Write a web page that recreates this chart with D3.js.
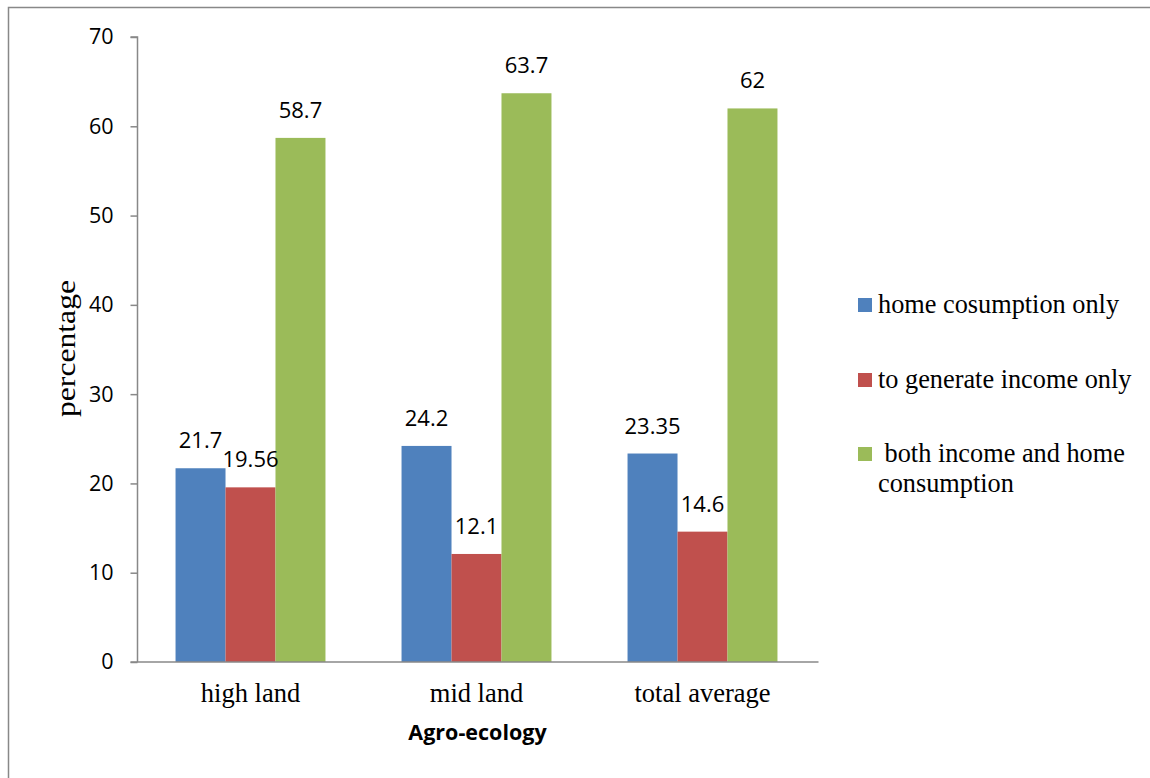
<!DOCTYPE html>
<html>
<head>
<meta charset="utf-8">
<script src="https://cdn.jsdelivr.net/npm/d3@7"></script>
<style>
  html, body { margin: 0; padding: 0; background: #fff; }
  svg { display: block; }
</style>
</head>
<body>
<svg id="chart" width="1150" height="778"></svg>
<script>
// Purpose of production by agro-ecology zone (percent of households)
const categories = ["high land", "mid land", "total average"];
const seriesNames = ["home cosumption only", "to generate income only", " both income and home consumption"];
const legendLines = [["home cosumption only"], ["to generate income only"], [" both income and home", "consumption"]];
const homeOnly = [21.7, 24.2, 23.35];
const incomeOnly = [19.56, 12.1, 14.6];
const bothUses = [58.7, 63.7, 62];
const valueLabels = [["21.7", "24.2", "23.35"], ["19.56", "12.1", "14.6"], ["58.7", "63.7", "62"]];
const yTicks = [0, 10, 20, 30, 40, 50, 60, 70];
const colors = ["#4f81bd", "#c0504d", "#9bbb59"];

const series = [homeOnly, incomeOnly, bothUses];

const sansFont = "'Open Sans', Lato, sans-serif";
const serifFont = "'Liberation Serif', 'Times New Roman', serif";

const svg = d3.select("#chart");

// outer frame
svg.append("path")
  .attr("d", "M8.5,778 V7.5 H1150")
  .attr("fill", "none")
  .attr("stroke", "#888")
  .attr("stroke-width", 1.5);

const plot = { left: 137.5, right: 815.5, top: 37, bottom: 662 };

const x0 = d3.scaleBand()
  .domain(categories)
  .range([plot.left, plot.right])
  .paddingInner(0.3366)
  .paddingOuter(0.1683);

const x1 = d3.scaleBand()
  .domain(d3.range(series.length))
  .range([0, x0.bandwidth()]);

const y = d3.scaleLinear().domain([0, 70]).range([plot.bottom, plot.top]);

// bars
series.forEach((vals, si) => {
  svg.append("g")
    .selectAll("rect")
    .data(vals)
    .join("rect")
    .attr("x", (d, i) => x0(categories[i]) + x1(si))
    .attr("y", d => y(d))
    .attr("width", x1.bandwidth())
    .attr("height", d => y(0) - y(d))
    .attr("fill", colors[si]);
});

// value labels above each bar
series.forEach((vals, si) => {
  svg.append("g")
    .selectAll("text")
    .data(vals)
    .join("text")
    .attr("x", (d, i) => x0(categories[i]) + x1(si) + x1.bandwidth() / 2)
    .attr("y", d => y(d) - 20)
    .attr("text-anchor", "middle")
    .attr("font-family", sansFont)
    .attr("font-size", 22)
    .attr("fill", "#000")
    .text((d, i) => valueLabels[si][i]);
});

// y axis
const yAxis = svg.append("g")
  .attr("transform", `translate(${plot.left},0)`)
  .call(d3.axisLeft(y).tickValues(yTicks).tickSize(7).tickPadding(17).tickFormat(d3.format("d")));
yAxis.select(".domain").attr("stroke", "#888").attr("stroke-width", 1.5).attr("d", `M-7,${plot.top}H0V${plot.bottom}`);
yAxis.selectAll(".tick line").attr("stroke", "#888").attr("stroke-width", 1.5);
yAxis.selectAll(".tick text")
  .attr("font-family", sansFont)
  .attr("font-size", 21.5)
  .attr("fill", "#000");

// x axis
const xAxis = svg.append("g")
  .attr("transform", `translate(0,${plot.bottom})`)
  .call(d3.axisBottom(x0).tickSize(0).tickPadding(0));
xAxis.select(".domain").attr("stroke", "#888").attr("stroke-width", 1.5).attr("d", `M${plot.left - 7},0H${plot.right + 3}`);
xAxis.selectAll(".tick text")
  .attr("dy", null)
  .attr("y", 40)
  .attr("font-family", serifFont)
  .attr("font-size", 26.5)
  .attr("fill", "#000");

// axis titles
svg.append("text")
  .attr("x", 477.5)
  .attr("y", 740)
  .attr("text-anchor", "middle")
  .attr("font-family", sansFont)
  .attr("font-weight", "bold")
  .attr("font-size", 21.5)
  .text("Agro-ecology");

svg.append("text")
  .attr("transform", "translate(75,348.5) rotate(-90)")
  .attr("text-anchor", "middle")
  .attr("font-family", serifFont)
  .attr("font-size", 27)
  .attr("textLength", 137)
  .attr("lengthAdjust", "spacingAndGlyphs")
  .text("percentage");

// legend
const legendBaselines = [313, 388, 462];
const legend = svg.append("g");
legendLines.forEach((lines, i) => {
  legend.append("rect")
    .attr("x", 858).attr("y", legendBaselines[i] - 15)
    .attr("width", 14).attr("height", 14)
    .attr("fill", colors[i]);
  const t = legend.append("text")
    .attr("font-family", serifFont)
    .attr("font-size", 26.3)
    .style("white-space", "pre");
  lines.forEach((ln, k) => {
    t.append("tspan")
      .attr("x", 878)
      .attr("y", legendBaselines[i] + k * 30)
      .text(ln);
  });
});
</script>
</body>
</html>
